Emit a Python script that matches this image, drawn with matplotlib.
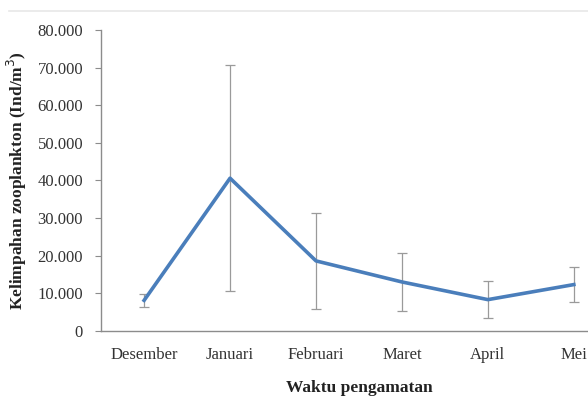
import matplotlib
matplotlib.use('Agg')
import matplotlib.pyplot as plt
from matplotlib.lines import Line2D
from matplotlib.ticker import FuncFormatter

# Monthly zooplankton abundance (mean and standard deviation)
months = ['Desember', 'Januari', 'Februari', 'Maret', 'April', 'Mei']
abundance = [8100, 40600, 18600, 13000, 8300, 12300]
std_dev = [1800, 30000, 12700, 7700, 5000, 4700]

plt.rcParams['font.family'] = ['Liberation Serif', 'DejaVu Serif']

fig = plt.figure(figsize=(5.88, 4.01), dpi=100)
# axes run a little past the right edge, so the last category is cut off
ax = fig.add_axes([0.172, 0.175, 0.877, 0.75])

x = [i + 0.5 for i in range(len(months))]
ax.errorbar(x, abundance, yerr=std_dev, fmt='none', ecolor='#9a9a9a',
            elinewidth=0.9, capsize=3.5, capthick=0.9, zorder=2)
ax.plot(x, abundance, color='#4a7ebb', linewidth=2.6, zorder=3)

ax.set_xlim(0, len(months))
ax.set_ylim(0, 80000)
ax.set_yticks(range(0, 80001, 10000))
ax.yaxis.set_major_formatter(FuncFormatter(lambda v, p: f'{int(v):,}'.replace(',', '.')))
ax.set_xticks(x)
ax.set_xticklabels(months)

for side in ['top', 'right']:
    ax.spines[side].set_visible(False)
for side in ['left', 'bottom']:
    ax.spines[side].set_color('#8c8c8c')
    ax.spines[side].set_linewidth(1.0)

ax.tick_params(axis='y', length=4, color='#8c8c8c', pad=9, labelsize=12, labelcolor='#333333')
ax.tick_params(axis='x', length=0, pad=12, labelsize=12, labelcolor='#333333')

ax.set_xlabel('Waktu pengamatan', fontsize=12.5, fontweight='bold', labelpad=12, color='#222222')
ax.set_ylabel('Kelimpahan zooplankton (Ind/m$^3$)', fontsize=12.5, fontweight='bold',
              labelpad=6, color='#222222')

# faint frame line along the top of the chart area
fig.add_artist(Line2D([0.015, 1.0], [0.972, 0.972], color='#e8e8e8', linewidth=1.2))

fig.savefig('out.png', dpi=100)
